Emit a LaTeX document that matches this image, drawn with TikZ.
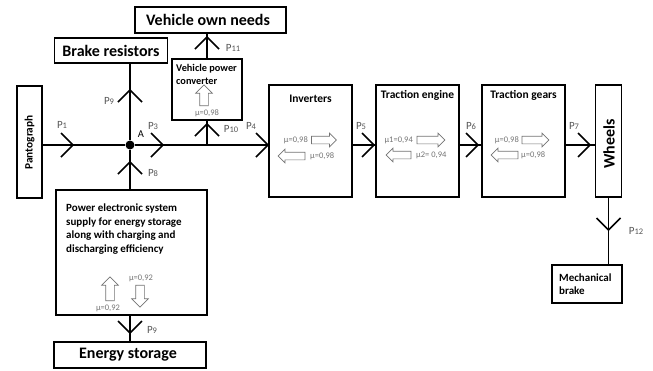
\documentclass[tikz,border=0pt]{standalone}
\usepackage{fontspec}
\setmainfont{Carlito}
\usetikzlibrary{shapes.arrows}
\definecolor{lbl}{RGB}{85,85,85}
\definecolor{eff}{RGB}{115,115,115}
\newcommand\plab[1]{P{\fontsize{8.5}{9}\selectfont #1}}
\begin{document}
\begin{tikzpicture}[x=1pt,y=-1pt,
  box/.style={draw, line width=1.5pt, inner sep=0pt, anchor=center},
  conn/.style={line width=1.5pt},
  bigtitle/.style={inner sep=0pt, font=\bfseries\fontsize{16}{18}\selectfont},
  title/.style={inner sep=0pt, font=\bfseries\fontsize{11.5}{13}\selectfont},
  plbl/.style={text=lbl, inner sep=0pt, font=\fontsize{11}{12}\selectfont},
  mu/.style={text=eff, inner sep=0pt, font=\fontsize{8.5}{9}\selectfont},
  barrow/.style={single arrow, draw=eff, line width=0.7pt, inner xsep=0pt, inner ysep=3.5pt,
    minimum height=#1, single arrow head extend=3pt},
  bigarrow/.style={single arrow, draw=eff, line width=0.7pt, inner xsep=0pt, inner ysep=4pt,
    minimum height=#1, single arrow head extend=4pt},
  chev/.pic={\draw[line width=1.5pt] (-12,-12) -- (0,0) -- (-12,12);}
]
\useasboundingbox (0,0) rectangle (653,370);

% boxes
\node[box, minimum width=151, minimum height=26] (own) at (210.5,20) {};
\node[bigtitle] (ownt) at (208,20) {Vehicle own needs};
\node[box, minimum width=113, minimum height=25] (brake) at (111,50.5) {};
\node[bigtitle] (braket) at (111,50.5) {Brake resistors};
\node[box, minimum width=70, minimum height=61] (vpc) at (207,89.5) {};
\node[anchor=north west, inner sep=0pt, align=left, font=\bfseries\fontsize{10.3}{13}\selectfont] (vpct) at (176,64) {Vehicle power\\converter};

\node[box, minimum width=25, minimum height=112] (panto) at (29.5,142) {};
\node[rotate=90, inner sep=0pt, font=\bfseries\fontsize{11.3}{13}\selectfont] (pantot) at (29.5,142.5) {Pantograph};

\node[box, minimum width=83, minimum height=112] (inv) at (310.5,141) {};
\node[title] (invt) at (310.5,99) {Inverters};
\node[box, minimum width=83, minimum height=112] (eng) at (417.5,141) {};
\node[title] (engt) at (417.5,95) {Traction engine};
\node[box, minimum width=83, minimum height=112] (gears) at (523.5,141) {};
\node[title] (gearst) at (523.5,95) {Traction gears};
\node[box, minimum width=26, minimum height=112] (wheels) at (608.5,141) {};
\node[rotate=90, inner sep=0pt, font=\bfseries\fontsize{16}{18}\selectfont] (wheelst) at (609,144) {Wheels};

\node[box, minimum width=151, minimum height=125] (pes) at (131.5,252.5) {};
\node[anchor=north west, inner sep=0pt, align=left, font=\bfseries\fontsize{11}{13.7}\selectfont] (pest) at (66,203.5) {Power electronic system\\supply for energy storage\\along with charging and\\discharging efficiency};
\node[box, minimum width=152, minimum height=26] (es) at (130,355) {};
\node[inner sep=0pt, font=\bfseries\fontsize{16}{18}\selectfont] (est) at (128,355) {Energy storage};
\node[box, minimum width=70, minimum height=38] (mb) at (587,284) {};
\node[anchor=north west, inner sep=0pt, align=left, font=\bfseries\fontsize{11}{13}\selectfont] (mbt) at (559,274) {Mechanical\\brake};

% junction
\node[circle, fill, inner sep=0pt, minimum size=9] (A) at (130,145) {};
\coordinate (T) at (207,145);

% connectors
\draw[conn] (panto.east |- A) -- (A);
\draw[conn] (A) -- (T) -- (inv.west |- A);
\draw[conn] (A) -- (brake.south -| A);
\draw[conn] (A) -- (pes.north -| A);
\draw[conn] (T) -- (vpc.south);
\draw[conn] (vpc.north) -- (own.south -| vpc.north);
\draw[conn] (pes.south -| A) -- (es.north -| A);
\draw[conn] (inv.east |- A) -- (eng.west |- A);
\draw[conn] (eng.east |- A) -- (gears.west |- A);
\draw[conn] (gears.east |- A) -- (wheels.west |- A);
\draw[conn] (wheels.south) -- (wheels.south |- mb.north);

% chevrons
\pic at (73,145) {chev};
\pic at (163,145) {chev};
\pic at (268,145) {chev};
\pic at (374,145) {chev};
\pic at (478,145) {chev};
\pic at (590,145) {chev};
\pic[rotate=90] at (130,90) {chev};
\pic[rotate=90] at (130,162) {chev};
\pic[rotate=90] at (207,124) {chev};
\pic[rotate=90] at (207,37) {chev};
\pic[rotate=-90] at (130,333) {chev};
\pic[rotate=-90] at (608.5,230) {chev};

% power labels
\node[plbl] (p1) at (62,125) {\plab{1}};
\node[plbl] (p3) at (153,126) {\plab{3}};
\node[inner sep=0pt, font=\fontsize{10.5}{12}\selectfont] (Al) at (141,134) {A};
\node[plbl] (p9a) at (109,101) {\plab{9}};
\node[plbl] (p8) at (153,173) {\plab{8}};
\node[plbl] (p10) at (231,129) {\plab{10}};
\node[plbl] (p4) at (251,126) {\plab{4}};
\node[plbl] (p11) at (233,48) {\plab{11}};
\node[plbl] (p5) at (361,126) {\plab{5}};
\node[plbl] (p6) at (471,126) {\plab{6}};
\node[plbl] (p7) at (574,126) {\plab{7}};
\node[plbl] (p9b) at (152,330) {\plab{9}};
\node[plbl] (p12) at (636,231) {\plab{12}};

% efficiency arrows
\node[barrow=25pt] (ia) at (322,140) {};
\node[barrow=27pt, rotate=180] (ib) at (293.5,156) {};
\node[mu, anchor=east] (ial) at (308,140) {μ=0,98};
\node[mu, anchor=west] (ibl) at (310,156) {μ=0,98};
\node[barrow=28pt] (ea) at (429,140) {};
\node[barrow=25pt, rotate=180] (eb) at (400.5,155) {};
\node[mu, anchor=east] (eal) at (413,140) {μ1=0,94};
\node[mu, anchor=west] (ebl) at (416,155) {μ2= 0,94};
\node[barrow=27pt] (ga) at (533.5,140) {};
\node[barrow=27pt, rotate=180] (gb) at (506.5,155) {};
\node[mu, anchor=east] (gal) at (519,140) {μ=0,98};
\node[mu, anchor=west] (gbl) at (521,155) {μ=0,98};
\node[bigarrow=24pt, rotate=90] (pa) at (110,291) {};
\node[bigarrow=22pt, rotate=-90] (pb) at (140,294) {};
\node[mu] (pal) at (108,308) {μ=0,92};
\node[mu] (pbl) at (141,278) {μ=0,92};
\node[bigarrow=21pt, rotate=90] (va) at (204,97.5) {};
\node[mu] (val) at (207,113) {μ=0,98};
\end{tikzpicture}
\end{document}
